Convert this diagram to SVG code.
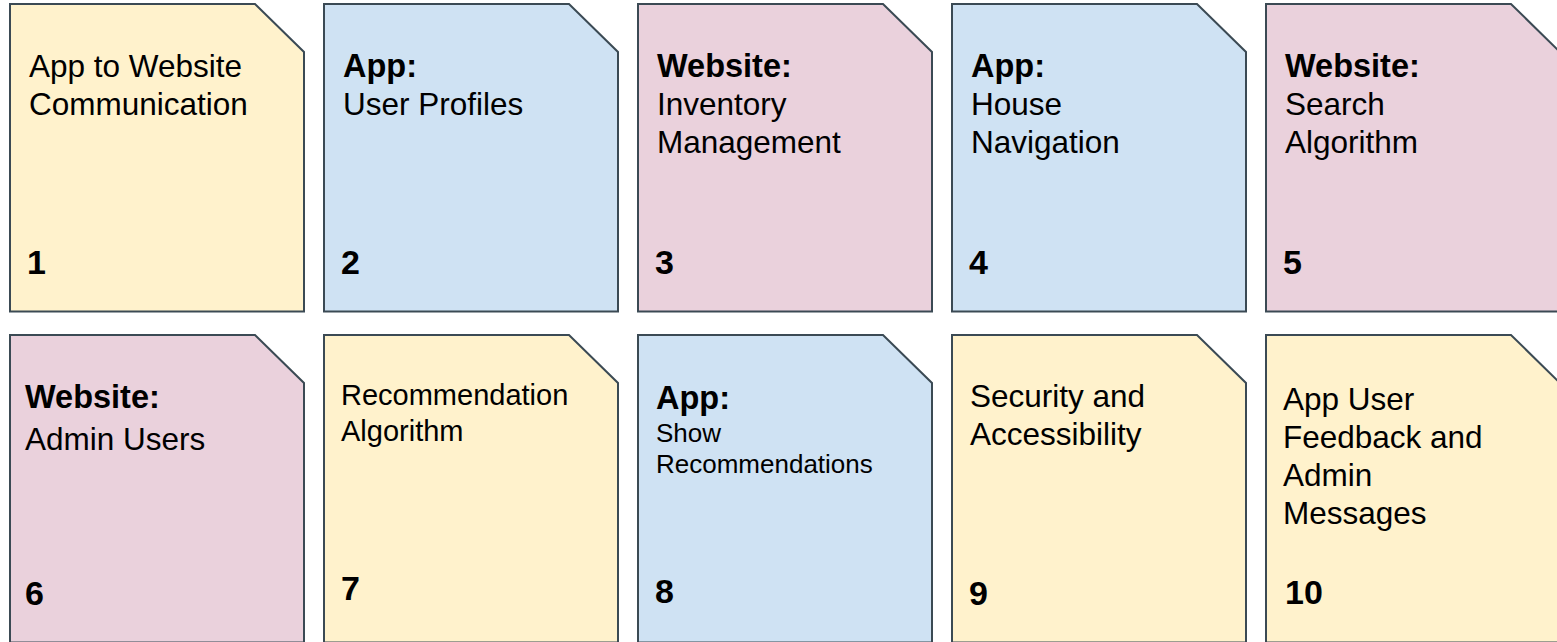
<svg xmlns="http://www.w3.org/2000/svg" width="1557" height="642" viewBox="0 0 1557 642">
<style>
.card{stroke:#3b4a54;stroke-width:2;stroke-linejoin:miter}
.y{fill:#fff2cc}.b{fill:#cfe2f3}.p{fill:#ead1dc}
text{font-family:"Liberation Sans",Arial,sans-serif;fill:#000}
.t{font-size:31.5px}
.h{font-size:32.5px;font-weight:bold}
.n{font-size:34px;font-weight:bold}
.s7{font-size:29px}
.s8{font-size:26px}
</style>
<defs>
<path id="shape" d="M0,0 H245 L294,48 V307.5 H0 Z"/>
</defs>
<rect width="1557" height="642" fill="#fff"/>
<g id="connectors"/>
<g id="card1">
<use href="#shape" x="10" y="4" class="card y"/>
<text class="t" x="29" y="77">App to Website</text>
<text class="t" x="29" y="115">Communication</text>
<text class="n" x="27" y="274">1</text>
</g>
<g id="card2">
<use href="#shape" x="324" y="4" class="card b"/>
<text class="h" x="343" y="77">App:</text>
<text class="t" x="343" y="115">User Profiles</text>
<text class="n" x="341" y="274">2</text>
</g>
<g id="card3">
<use href="#shape" x="638" y="4" class="card p"/>
<text class="h" x="657" y="77">Website:</text>
<text class="t" x="657" y="115">Inventory</text>
<text class="t" x="657" y="153">Management</text>
<text class="n" x="655" y="274">3</text>
</g>
<g id="card4">
<use href="#shape" x="952" y="4" class="card b"/>
<text class="h" x="971" y="77">App:</text>
<text class="t" x="971" y="115">House</text>
<text class="t" x="971" y="153">Navigation</text>
<text class="n" x="969" y="274">4</text>
</g>
<g id="card5">
<use href="#shape" x="1266" y="4" class="card p"/>
<text class="h" x="1285" y="77">Website:</text>
<text class="t" x="1285" y="115">Search</text>
<text class="t" x="1285" y="153">Algorithm</text>
<text class="n" x="1283" y="274">5</text>
</g>
<g id="card6">
<use href="#shape" x="10" y="335" class="card p"/>
<text class="h" x="25" y="408">Website:</text>
<text class="t" x="25" y="450">Admin Users</text>
<text class="n" x="25" y="605">6</text>
</g>
<g id="card7">
<use href="#shape" x="324" y="335" class="card y"/>
<text class="s7" x="341" y="405">Recommendation</text>
<text class="s7" x="341" y="441">Algorithm</text>
<text class="n" x="341" y="600">7</text>
</g>
<g id="card8">
<use href="#shape" x="638" y="335" class="card b"/>
<text class="h" x="656" y="409">App:</text>
<text class="s8" x="656" y="442">Show</text>
<text class="s8" x="656" y="473">Recommendations</text>
<text class="n" x="655" y="603">8</text>
</g>
<g id="card9">
<use href="#shape" x="952" y="335" class="card y"/>
<text class="t" x="970" y="407">Security and</text>
<text class="t" x="970" y="445">Accessibility</text>
<text class="n" x="969" y="605">9</text>
</g>
<g id="card10">
<use href="#shape" x="1266" y="335" class="card y"/>
<text class="t" x="1283" y="410">App User</text>
<text class="t" x="1283" y="448">Feedback and</text>
<text class="t" x="1283" y="486">Admin</text>
<text class="t" x="1283" y="524">Messages</text>
<text class="n" x="1285" y="604">10</text>
</g>
</svg>
